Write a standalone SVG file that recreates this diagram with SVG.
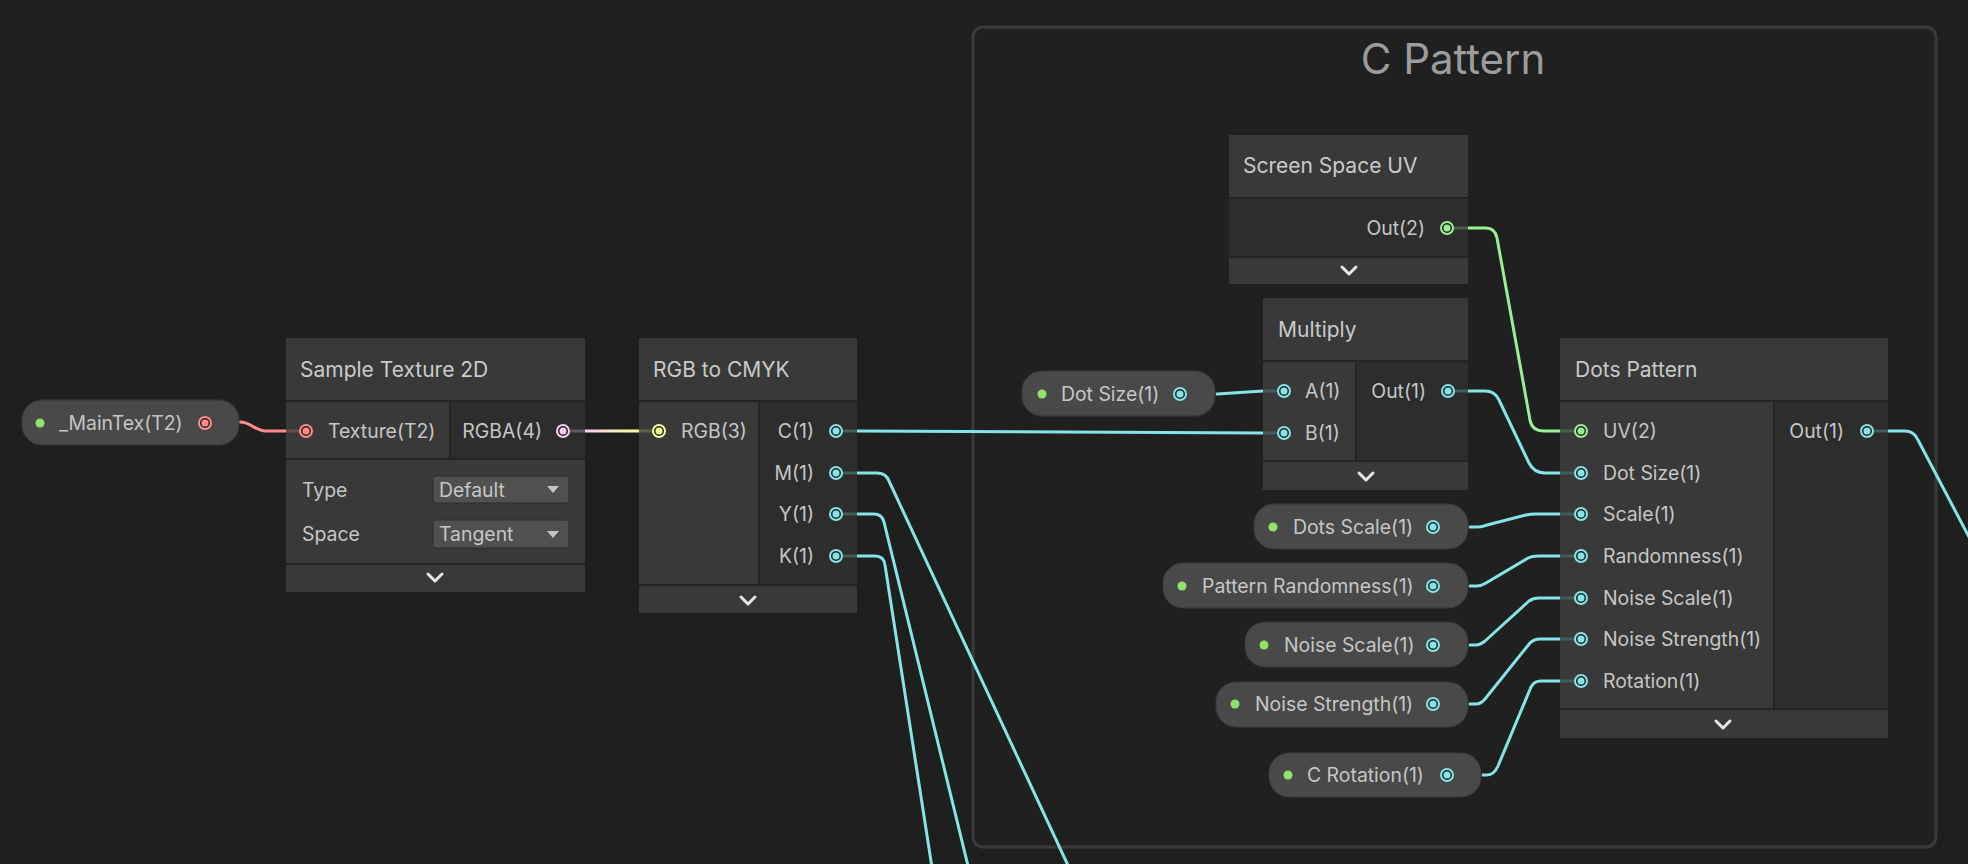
<svg xmlns="http://www.w3.org/2000/svg" width="1968" height="864" viewBox="0 0 1968 864">
  <defs>
    <style>
      text { font-family: Inter, "Liberation Sans", sans-serif; fill: #c6c6c6; }
      .title { font-size: 21px; fill: #cacaca; }
      .lbl { font-size: 19.4px; }
      .end { text-anchor: end; }
      .group-title { font-size: 42px; fill: #9c9c9c; text-anchor: middle; }
      .sep { fill: #242424; }
      .hd { fill: #393939; }
      .in { fill: #393939; }
      .out { fill: #2d2d2d; }
      .ft { fill: #393939; }
      .pill { fill: #494949; stroke: #3a3a3a; stroke-width: 1; }
      .pdot { fill: #8fe36a; }
      .chev { fill: none; stroke: #e6e6e6; stroke-width: 3; stroke-linecap: round; stroke-linejoin: round; }
      .edge { fill: none; stroke-width: 3; stroke-linecap: round; stroke-linejoin: round; }
      .stub { stroke-width: 3; }
      .f { stroke: #84e4e7; }
      .ring { fill: #242424; stroke-width: 2; }
      .dd { fill: #505050; stroke: #2e2e2e; stroke-width: 1; }
      .tri { fill: #c4c4c4; }
    </style>
    <linearGradient id="grad-rgba-rgb" x1="585" y1="0" x2="639" y2="0" gradientUnits="userSpaceOnUse">
      <stop offset="0" stop-color="#fbcbf4"/>
      <stop offset="1" stop-color="#f6ff9a"/>
    </linearGradient>
  </defs>

  <rect width="1968" height="864" fill="#1f1f1f"/>

  <!-- group frame -->
  <g id="group-c-pattern">
    <rect x="973" y="27" width="963" height="820" rx="10" fill="#202020" stroke="#3a3a3a" stroke-width="3"/>
    <text class="group-title" x="1453" y="74">C Pattern</text>
  </g>

  <!-- connectors -->
  <g id="connectors">
    <path class="edge" stroke="#ff8b8b" d="M240,422 C252,422 254,431 266,431 L286,431"/>
    <path class="edge" stroke="url(#grad-rgba-rgb)" d="M585,431 L639,431"/>
    <path class="edge f" d="M857,431 L1263,433"/>
    <path class="edge f" d="M857,473 L877,473 Q886,473 889,481 L1072,874"/>
    <path class="edge f" d="M857,514 L874,514 Q882,514 884,522 L970,874"/>
    <path class="edge f" d="M857,556 L875,556 Q884,556 885,565 L933,874"/>
    <path class="edge f" d="M1217,394 L1263,391"/>
    <path class="edge" stroke="#9aef92" d="M1468,228 L1486,228 Q1495,228 1497,238 L1530,420 Q1532,431 1544,431 L1560,431"/>
    <path class="edge f" d="M1468,391 L1485,391 Q1495,391 1499,400 L1529,463 Q1534,473 1545,473 L1560,473"/>
    <path class="edge f" d="M1470,527 L1478,527 Q1482,527 1487,525 L1526,515 Q1530,514 1536,514 L1560,514"/>
    <path class="edge f" d="M1470,586 L1477,586 Q1481,586 1486,583 L1528,558 Q1532,556 1538,556 L1560,556"/>
    <path class="edge f" d="M1470,645 L1476,645 Q1480,645 1485,641 L1529,601 Q1533,598 1539,598 L1560,598"/>
    <path class="edge f" d="M1470,704 L1476,704 Q1481,704 1485,699 L1530,643 Q1534,639 1540,639 L1560,639"/>
    <path class="edge f" d="M1483,775 L1487,775 Q1494,775 1498,766 L1531,687 Q1534,681 1541,681 L1560,681"/>
    <path class="edge f" d="M1888,431 L1905,431 Q1914,431 1918,440 L1990,577"/>
  </g>

  <!-- _MainTex property -->
  <g id="prop-maintex">
    <rect class="pill" x="22" y="400" width="217" height="45" rx="20"/>
    <circle class="pdot" cx="40" cy="423" r="4.5"/>
    <text class="lbl" x="59" y="430">_MainTex(T2)</text>
    <circle class="ring" cx="205" cy="423" r="6" stroke="#ff8b8b"/>
    <circle cx="205" cy="423" r="3.5" fill="#ff8b8b"/>
  </g>

  <!-- Sample Texture 2D -->
  <g id="node-sample-texture-2d">
    <rect class="sep" x="286" y="338" width="299" height="254"/>
    <rect class="hd" x="286" y="338" width="299" height="62"/>
    <rect class="in" x="286" y="402" width="163" height="56"/>
    <rect class="out" x="451" y="402" width="134" height="56"/>
    <rect class="in" x="286" y="460" width="299" height="103"/>
    <rect class="ft" x="286" y="565" width="299" height="27"/>
    <text class="title" x="300" y="377">Sample Texture 2D</text>
    <line class="stub" x1="286" y1="431" x2="301" y2="431" stroke="#6a4c4c"/>
    <circle class="ring" cx="306" cy="431" r="6" stroke="#ff8b8b"/>
    <circle cx="306" cy="431" r="3.5" fill="#ff8b8b"/>
    <text class="lbl" x="328" y="438">Texture(T2)</text>
    <text class="lbl end" x="542" y="438">RGBA(4)</text>
    <line class="stub" x1="568" y1="431" x2="585" y2="431" stroke="#5e5a5e"/>
    <circle class="ring" cx="563" cy="431" r="6" stroke="#fbcbf4"/>
    <circle cx="563" cy="431" r="3.5" fill="#fbcbf4"/>
    <text class="lbl" x="302" y="497">Type</text>
    <rect class="dd" x="433" y="476" width="136" height="27" rx="3"/>
    <text class="lbl" x="439" y="497">Default</text>
    <path class="tri" d="M547,486 L559,486 L553,493 Z"/>
    <text class="lbl" x="302" y="541">Space</text>
    <rect class="dd" x="433" y="520" width="136" height="28" rx="3"/>
    <text class="lbl" x="439" y="541">Tangent</text>
    <path class="tri" d="M547,531 L559,531 L553,538 Z"/>
    <path class="chev" d="M428,574 L435,581 L442,574"/>
  </g>

  <!-- RGB to CMYK -->
  <g id="node-rgb-to-cmyk">
    <rect class="sep" x="639" y="338" width="218" height="275"/>
    <rect class="hd" x="639" y="338" width="218" height="62"/>
    <rect class="in" x="639" y="402" width="119" height="182"/>
    <rect class="out" x="760" y="402" width="97" height="182"/>
    <rect class="ft" x="639" y="586" width="218" height="27"/>
    <text class="title" x="653" y="377">RGB to CMYK</text>
    <line class="stub" x1="639" y1="431" x2="654" y2="431" stroke="#5e5e4c"/>
    <circle class="ring" cx="659" cy="431" r="6" stroke="#f6ff9a"/>
    <circle cx="659" cy="431" r="3.5" fill="#f6ff9a"/>
    <text class="lbl" x="681" y="438">RGB(3)</text>
    <g stroke="#445c5d">
      <line class="stub" x1="841" y1="431" x2="857" y2="431"/>
      <line class="stub" x1="841" y1="473" x2="857" y2="473"/>
      <line class="stub" x1="841" y1="514" x2="857" y2="514"/>
      <line class="stub" x1="841" y1="556" x2="857" y2="556"/>
    </g>
    <text class="lbl end" x="814" y="438">C(1)</text>
    <text class="lbl end" x="814" y="480">M(1)</text>
    <text class="lbl end" x="814" y="521">Y(1)</text>
    <text class="lbl end" x="814" y="563">K(1)</text>
    <g stroke="#84e4e7">
      <circle class="ring" cx="836" cy="431" r="6"/>
      <circle class="ring" cx="836" cy="473" r="6"/>
      <circle class="ring" cx="836" cy="514" r="6"/>
      <circle class="ring" cx="836" cy="556" r="6"/>
    </g>
    <g fill="#84e4e7">
      <circle cx="836" cy="431" r="3.5"/>
      <circle cx="836" cy="473" r="3.5"/>
      <circle cx="836" cy="514" r="3.5"/>
      <circle cx="836" cy="556" r="3.5"/>
    </g>
    <path class="chev" d="M741,597 L748,604 L755,597"/>
  </g>

  <!-- Screen Space UV -->
  <g id="node-screen-space-uv">
    <rect class="sep" x="1229" y="135" width="239" height="149"/>
    <rect class="hd" x="1229" y="135" width="239" height="62"/>
    <rect class="out" x="1229" y="199" width="239" height="57"/>
    <rect class="ft" x="1229" y="258" width="239" height="26"/>
    <text class="title" x="1243" y="173">Screen Space UV</text>
    <text class="lbl end" x="1425" y="235">Out(2)</text>
    <line class="stub" x1="1452" y1="228" x2="1468" y2="228" stroke="#4c5e4c"/>
    <circle class="ring" cx="1447" cy="228" r="6" stroke="#9aef92"/>
    <circle cx="1447" cy="228" r="3.5" fill="#9aef92"/>
    <path class="chev" d="M1342,267 L1349,274 L1356,267"/>
  </g>

  <!-- Dot Size property -->
  <g id="prop-dot-size">
    <rect class="pill" x="1022" y="371" width="193" height="45" rx="20"/>
    <circle class="pdot" cx="1042" cy="394" r="4.5"/>
    <text class="lbl" x="1061" y="401">Dot Size(1)</text>
    <circle class="ring" cx="1180" cy="394" r="6" stroke="#84e4e7"/>
    <circle cx="1180" cy="394" r="3.5" fill="#84e4e7"/>
  </g>

  <!-- Multiply -->
  <g id="node-multiply">
    <rect class="sep" x="1263" y="298" width="205" height="192"/>
    <rect class="hd" x="1263" y="298" width="205" height="62"/>
    <rect class="in" x="1263" y="362" width="92" height="98"/>
    <rect class="out" x="1357" y="362" width="111" height="98"/>
    <rect class="ft" x="1263" y="462" width="205" height="28"/>
    <text class="title" x="1278" y="337">Multiply</text>
    <g stroke="#445c5d">
      <line class="stub" x1="1263" y1="391" x2="1279" y2="391"/>
      <line class="stub" x1="1263" y1="433" x2="1279" y2="433"/>
      <line class="stub" x1="1453" y1="391" x2="1468" y2="391"/>
    </g>
    <text class="lbl" x="1305" y="398">A(1)</text>
    <text class="lbl" x="1305" y="440">B(1)</text>
    <text class="lbl end" x="1426" y="398">Out(1)</text>
    <g stroke="#84e4e7">
      <circle class="ring" cx="1284" cy="391" r="6"/>
      <circle class="ring" cx="1284" cy="433" r="6"/>
      <circle class="ring" cx="1448" cy="391" r="6"/>
    </g>
    <g fill="#84e4e7">
      <circle cx="1284" cy="391" r="3.5"/>
      <circle cx="1284" cy="433" r="3.5"/>
      <circle cx="1448" cy="391" r="3.5"/>
    </g>
    <path class="chev" d="M1359,473 L1366,480 L1373,473"/>
  </g>

  <!-- Exposed float properties -->
  <g id="prop-dots-scale">
    <rect class="pill" x="1254" y="504" width="214" height="45" rx="20"/>
    <circle class="pdot" cx="1273" cy="527" r="4.5"/>
    <text class="lbl" x="1293" y="534">Dots Scale(1)</text>
    <circle class="ring" cx="1433" cy="527" r="6" stroke="#84e4e7"/>
    <circle cx="1433" cy="527" r="3.5" fill="#84e4e7"/>
  </g>
  <g id="prop-pattern-randomness">
    <rect class="pill" x="1163" y="563" width="305" height="45" rx="20"/>
    <circle class="pdot" cx="1182" cy="586" r="4.5"/>
    <text class="lbl" x="1202" y="593">Pattern Randomness(1)</text>
    <circle class="ring" cx="1433" cy="586" r="6" stroke="#84e4e7"/>
    <circle cx="1433" cy="586" r="3.5" fill="#84e4e7"/>
  </g>
  <g id="prop-noise-scale">
    <rect class="pill" x="1245" y="622" width="223" height="45" rx="20"/>
    <circle class="pdot" cx="1264" cy="645" r="4.5"/>
    <text class="lbl" x="1284" y="652">Noise Scale(1)</text>
    <circle class="ring" cx="1433" cy="645" r="6" stroke="#84e4e7"/>
    <circle cx="1433" cy="645" r="3.5" fill="#84e4e7"/>
  </g>
  <g id="prop-noise-strength">
    <rect class="pill" x="1216" y="682" width="252" height="45" rx="20"/>
    <circle class="pdot" cx="1235" cy="704" r="4.5"/>
    <text class="lbl" x="1255" y="711">Noise Strength(1)</text>
    <circle class="ring" cx="1433" cy="704" r="6" stroke="#84e4e7"/>
    <circle cx="1433" cy="704" r="3.5" fill="#84e4e7"/>
  </g>
  <g id="prop-c-rotation">
    <rect class="pill" x="1269" y="753" width="212" height="44" rx="20"/>
    <circle class="pdot" cx="1288" cy="775" r="4.5"/>
    <text class="lbl" x="1307" y="782">C Rotation(1)</text>
    <circle class="ring" cx="1447" cy="775" r="6" stroke="#84e4e7"/>
    <circle cx="1447" cy="775" r="3.5" fill="#84e4e7"/>
  </g>

  <!-- Dots Pattern -->
  <g id="node-dots-pattern">
    <rect class="sep" x="1560" y="338" width="328" height="400"/>
    <rect class="hd" x="1560" y="338" width="328" height="62"/>
    <rect class="in" x="1560" y="402" width="213" height="306"/>
    <rect class="out" x="1775" y="402" width="113" height="306"/>
    <rect class="ft" x="1560" y="710" width="328" height="28"/>
    <text class="title" x="1575" y="377">Dots Pattern</text>
    <line class="stub" x1="1560" y1="431" x2="1576" y2="431" stroke="#4c5e4c"/>
    <g stroke="#445c5d">
      <line class="stub" x1="1560" y1="473" x2="1576" y2="473"/>
      <line class="stub" x1="1560" y1="514" x2="1576" y2="514"/>
      <line class="stub" x1="1560" y1="556" x2="1576" y2="556"/>
      <line class="stub" x1="1560" y1="598" x2="1576" y2="598"/>
      <line class="stub" x1="1560" y1="639" x2="1576" y2="639"/>
      <line class="stub" x1="1560" y1="681" x2="1576" y2="681"/>
      <line class="stub" x1="1872" y1="431" x2="1888" y2="431"/>
    </g>
    <text class="lbl" x="1603" y="438">UV(2)</text>
    <text class="lbl" x="1603" y="480">Dot Size(1)</text>
    <text class="lbl" x="1603" y="521">Scale(1)</text>
    <text class="lbl" x="1603" y="563">Randomness(1)</text>
    <text class="lbl" x="1603" y="605">Noise Scale(1)</text>
    <text class="lbl" x="1603" y="646">Noise Strength(1)</text>
    <text class="lbl" x="1603" y="688">Rotation(1)</text>
    <text class="lbl end" x="1844" y="438">Out(1)</text>
    <circle class="ring" cx="1581" cy="431" r="6" stroke="#9aef92"/>
    <circle cx="1581" cy="431" r="3.5" fill="#9aef92"/>
    <g stroke="#84e4e7">
      <circle class="ring" cx="1581" cy="473" r="6"/>
      <circle class="ring" cx="1581" cy="514" r="6"/>
      <circle class="ring" cx="1581" cy="556" r="6"/>
      <circle class="ring" cx="1581" cy="598" r="6"/>
      <circle class="ring" cx="1581" cy="639" r="6"/>
      <circle class="ring" cx="1581" cy="681" r="6"/>
      <circle class="ring" cx="1867" cy="431" r="6"/>
    </g>
    <g fill="#84e4e7">
      <circle cx="1581" cy="473" r="3.5"/>
      <circle cx="1581" cy="514" r="3.5"/>
      <circle cx="1581" cy="556" r="3.5"/>
      <circle cx="1581" cy="598" r="3.5"/>
      <circle cx="1581" cy="639" r="3.5"/>
      <circle cx="1581" cy="681" r="3.5"/>
      <circle cx="1867" cy="431" r="3.5"/>
    </g>
    <path class="chev" d="M1716,721 L1723,728 L1730,721"/>
  </g>
</svg>
